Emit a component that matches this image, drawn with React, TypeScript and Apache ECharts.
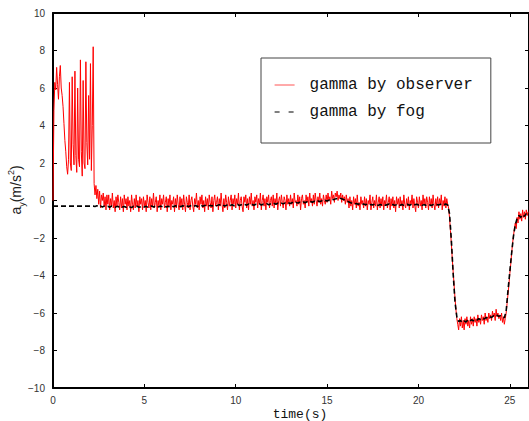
import React, { useEffect, useRef } from "react";
import * as echarts from "echarts";

// sample steps of the recorded signals (seconds)
const OBSERVER_STEP = 0.05;
const FOG_STEP = 0.1;

const seriesNames = ["gamma by observer", "gamma by fog"];
const xTickInterval = 5;
const yTicks = [-10, 10, 2]; // min, max, interval

// gamma by observer, t = 0.00 .. 26.00 s (one row per second)
const observerGamma = [
  0.0, 4.8, 6.3, 5.9, 7.1, 6.2, 5.4, 6.6, 7.2, 6.0, 5.6, 5.0, 4.1, 3.2, 2.6, 1.8, 1.4, 2.2, 6.3, 2.0,
  1.6, 6.6, 3.0, 1.9, 6.9, 2.4, 1.5, 6.0, 2.2, 1.8, 7.5, 2.6, 1.3, 6.4, 2.0, 1.7, 7.4, 3.1, 1.9, 5.6,
  2.2, 7.3, 1.6, 4.0, 8.2, 0.9, 0.3, 0.8, 0.1, 0.6, -0.2, 0.5, -0.4, 0.3, 0.0, 0.4, -0.3, 0.2, -0.5, 0.3,
  -0.2, 0.3, -0.5, 0.1, -0.3, 0.4, -0.4, 0.0, -0.6, 0.2, -0.3, 0.3, -0.1, -0.5, 0.2, -0.4, 0.1, -0.6, 0.3, -0.2,
  0.1, -0.5, 0.2, -0.3, 0.0, -0.6, 0.3, -0.2, -0.5, 0.1, -0.4, 0.3, -0.3, 0.0, -0.6, 0.2, -0.2, 0.1, -0.5, 0.2,
  -0.3, 0.0, -0.6, 0.3, -0.1, -0.4, 0.2, -0.5, 0.1, -0.3, 0.4, -0.4, -0.1, 0.2, -0.6, 0.0, -0.3, 0.3, -0.5, 0.1,
  -0.2, 0.3, -0.4, -0.1, 0.2, -0.6, 0.1, -0.3, 0.3, -0.5, 0.0, -0.2, 0.2, -0.6, 0.1, -0.4, 0.3, -0.2, -0.5, 0.2,
  -0.3, 0.1, -0.5, 0.3, -0.2, -0.6, 0.2, -0.1, -0.4, 0.3, -0.5, 0.0, 0.2, -0.3, -0.6, 0.1, -0.2, 0.4, -0.4, 0.0,
  -0.5, 0.2, -0.2, 0.3, -0.4, 0.0, -0.6, 0.2, -0.3, 0.1, -0.5, 0.3, -0.1, -0.4, 0.2, -0.6, 0.0, 0.3, -0.3, -0.1,
  0.2, -0.5, 0.1, -0.3, 0.4, -0.2, -0.6, 0.1, -0.4, 0.3, -0.1, -0.5, 0.2, -0.3, 0.0, 0.3, -0.5, 0.1, -0.2, 0.3,
  -0.4, 0.1, -0.2, 0.4, -0.5, 0.0, 0.2, -0.3, -0.6, 0.2, -0.1, 0.3, -0.4, 0.1, -0.5, 0.2, -0.2, 0.4, -0.3, 0.0,
  -0.5, 0.2, -0.1, 0.3, -0.4, 0.1, -0.2, 0.4, -0.5, 0.0, 0.3, -0.3, 0.1, -0.5, 0.2, -0.1, 0.3, -0.4, 0.0, 0.2,
  -0.3, 0.3, -0.4, 0.1, -0.2, 0.4, -0.5, 0.0, 0.2, -0.3, 0.3, -0.1, -0.4, 0.2, 0.0, -0.5, 0.3, -0.2, 0.1, -0.3,
  0.3, -0.2, 0.1, -0.4, 0.4, -0.1, 0.0, -0.3, 0.3, -0.2, 0.2, -0.5, 0.1, 0.3, -0.2, 0.0, -0.4, 0.3, -0.1, 0.2,
  -0.3, 0.4, -0.1, 0.1, -0.3, 0.3, -0.2, 0.4, 0.0, -0.3, 0.2, -0.1, 0.4, -0.2, 0.1, -0.3, 0.3, 0.0, -0.2, 0.3,
  -0.1, 0.4, 0.0, 0.2, -0.2, 0.5, 0.1, 0.3, -0.1, 0.4, 0.2, 0.5, 0.0, 0.3, 0.1, 0.4, -0.1, 0.3, 0.0, 0.2,
  -0.2, 0.3, -0.1, 0.1, -0.4, 0.2, -0.3, 0.0, -0.5, 0.2, -0.2, 0.1, -0.4, 0.3, -0.3, -0.1, -0.5, 0.2, -0.2, 0.0,
  -0.4, 0.2, -0.3, 0.1, -0.5, 0.0, -0.2, 0.3, -0.5, -0.1, 0.2, -0.4, 0.0, -0.3, 0.3, -0.5, -0.1, 0.2, -0.4, 0.1,
  -0.3, 0.2, -0.5, 0.0, -0.2, 0.3, -0.4, -0.1, 0.2, -0.5, 0.1, -0.3, 0.2, -0.4, 0.0, -0.6, 0.2, -0.2, 0.1, -0.4,
  0.2, -0.3, 0.0, -0.5, 0.3, -0.2, -0.4, 0.1, -0.3, 0.2, -0.5, 0.0, -0.2, 0.3, -0.4, 0.1, -0.3, -0.6, 0.2, -0.1,
  -0.4, 0.2, -0.3, 0.0, -0.5, 0.3, -0.2, 0.1, -0.4, 0.2, -0.1, -0.5, 0.2, -0.3, 0.1, -0.4, 0.3, -0.2, -0.5, 0.1,
  -0.3, 0.2, -0.4, 0.1, -0.2, 0.3, -0.5, 0.0, -0.3, 0.2, -0.4, 0.1, -0.2, -0.4, -0.9, -1.6, -2.3, -3.1, -3.8, -4.5,
  -5.2, -5.8, -6.3, -6.6, -6.9, -6.3, -6.7, -6.2, -6.8, -6.4, -6.9, -6.3, -6.6, -6.2, -6.7, -6.4, -6.8, -6.2, -6.6, -6.3,
  -6.7, -6.2, -6.5, -6.3, -6.7, -6.1, -6.5, -6.3, -6.6, -6.1, -6.4, -6.2, -6.6, -6.0, -6.4, -6.2, -6.5, -6.0, -6.3, -6.1,
  -6.4, -5.9, -6.2, -6.0, -6.4, -5.8, -6.2, -6.0, -6.3, -6.1, -6.4, -6.0, -6.5, -6.2, -6.6, -6.3, -6.0, -5.5, -5.0, -4.5,
  -3.9, -3.4, -2.8, -2.3, -1.9, -1.5, -1.2, -1.5, -0.9, -1.2, -0.6, -1.0, -0.7, -1.1, -0.5, -0.9, -0.6, -1.0, -0.5, -0.8,
  -0.6,
];

// gamma by fog, t = 0.0 .. 26.0 s
const fogGamma = [
  -0.3, -0.3, -0.3, -0.3, -0.3, -0.3, -0.3, -0.3, -0.3, -0.3,
  -0.3, -0.3, -0.3, -0.3, -0.3, -0.3, -0.3, -0.3, -0.3, -0.3,
  -0.3, -0.3, -0.3, -0.32, -0.28, -0.33, -0.29, -0.35, -0.3, -0.34,
  -0.31, -0.36, -0.3, -0.33, -0.37, -0.31, -0.34, -0.29, -0.35, -0.32,
  -0.36, -0.3, -0.34, -0.38, -0.31, -0.35, -0.3, -0.36, -0.33, -0.29,
  -0.35, -0.31, -0.37, -0.32, -0.29, -0.35, -0.3, -0.36, -0.33, -0.3,
  -0.34, -0.29, -0.35, -0.31, -0.36, -0.3, -0.33, -0.28, -0.34, -0.3,
  -0.33, -0.28, -0.32, -0.27, -0.33, -0.29, -0.26, -0.31, -0.27, -0.32,
  -0.28, -0.25, -0.31, -0.27, -0.24, -0.3, -0.26, -0.29, -0.25, -0.3,
  -0.26, -0.22, -0.28, -0.24, -0.3, -0.25, -0.21, -0.27, -0.23, -0.28,
  -0.24, -0.2, -0.27, -0.23, -0.26, -0.21, -0.25, -0.19, -0.24, -0.21,
  -0.25, -0.2, -0.23, -0.18, -0.24, -0.2, -0.22, -0.17, -0.23, -0.19,
  -0.21, -0.16, -0.2, -0.15, -0.19, -0.14, -0.18, -0.13, -0.17, -0.14,
  -0.16, -0.11, -0.15, -0.1, -0.14, -0.09, -0.13, -0.08, -0.12, -0.07,
  -0.1, -0.06, -0.09, -0.04, -0.08, -0.03, -0.06, -0.02, -0.05, 0.0,
  -0.03, 0.02, -0.01, 0.04, 0.06, 0.1, 0.08, 0.12, 0.09, 0.05,
  0.02, -0.04, -0.08, -0.12, -0.15, -0.18, -0.16, -0.2, -0.17, -0.22,
  -0.19, -0.23, -0.2, -0.25, -0.21, -0.24, -0.19, -0.23, -0.26, -0.21,
  -0.24, -0.2, -0.25, -0.22, -0.19, -0.24, -0.21, -0.26, -0.22, -0.2,
  -0.25, -0.21, -0.26, -0.23, -0.2, -0.25, -0.22, -0.27, -0.23, -0.2,
  -0.24, -0.21, -0.26, -0.22, -0.25, -0.2, -0.23, -0.27, -0.22, -0.25,
  -0.21, -0.24, -0.2, -0.25, -0.22, -0.19, -0.24, -0.7, -2.1, -3.9,
  -5.4, -6.2, -6.45, -6.4, -6.5, -6.42, -6.48, -6.38, -6.45, -6.36,
  -6.42, -6.34, -6.38, -6.3, -6.35, -6.27, -6.32, -6.24, -6.28, -6.2,
  -6.24, -6.15, -6.2, -6.12, -6.18, -6.14, -6.2, -6.25, -5.9, -4.8,
  -3.8, -2.8, -1.9, -1.3, -0.95, -0.8, -0.9, -0.75, -0.85, -0.7,
  -0.75,
];

const toPairs = (vals: number[], step: number) =>
  vals.map((v, i) => [Math.round(i * step * 1000) / 1000, v]);

export default function App() {
  const ref = useRef<HTMLDivElement>(null);

  useEffect(() => {
    if (!ref.current) return;
    const chart = echarts.init(ref.current, null, { renderer: "svg" });

    const axisLine = { show: true, onZero: false, lineStyle: { color: "#000", width: 2 } };
    const axisTick = { show: true, inside: true, length: 4, lineStyle: { color: "#000", width: 1 } };
    const minusFmt = (v: number) => String(v).replace("-", "\u2212");

    chart.setOption({
      animation: false,
      backgroundColor: "#fff",
      grid: { left: 53, top: 13, right: -1, bottom: 33, containLabel: false },
      legend: {
        show: true,
        orient: "vertical",
        left: 261,
        top: 58,
        padding: [19, 18, 23, 13],
        itemGap: 11,
        itemWidth: 20,
        itemHeight: 14,
        borderColor: "#444",
        borderWidth: 1,
        backgroundColor: "#fff",
        itemStyle: { opacity: 0 },
        textStyle: {
          fontFamily: "Liberation Mono",
          fontSize: 16,
          lineHeight: 16,
          color: "#111",
          padding: [0, 0, 0, 10],
        },
        data: [
          { name: seriesNames[0], itemStyle: { opacity: 0 }, lineStyle: { width: 1, color: "#ff5555" } },
          { name: seriesNames[1], itemStyle: { opacity: 0 }, lineStyle: { type: [5, 9], width: 1.2 } },
        ],
      },
      xAxis: [
        {
          type: "value",
          position: "bottom",
          min: 0,
          max: 26.05,
          interval: xTickInterval,
          axisLine,
          axisTick,
          splitLine: { show: false },
          axisLabel: {
            fontFamily: "Liberation Sans",
            fontSize: 10,
            color: "#333",
            margin: 7,
            showMaxLabel: false,
          },
        },
        {
          type: "value",
          position: "top",
          min: 0,
          max: 26.05,
          interval: xTickInterval,
          axisLine,
          axisTick,
          splitLine: { show: false },
          axisLabel: { show: false },
        },
      ],
      yAxis: [
        {
          type: "value",
          position: "left",
          min: yTicks[0],
          max: yTicks[1],
          interval: yTicks[2],
          axisLine,
          axisTick,
          splitLine: { show: false },
          axisLabel: {
            fontFamily: "Liberation Sans",
            fontSize: 10,
            color: "#333",
            margin: 8,
            formatter: minusFmt,
          },
        },
        {
          type: "value",
          position: "right",
          min: yTicks[0],
          max: yTicks[1],
          interval: yTicks[2],
          axisLine,
          axisTick,
          splitLine: { show: false },
          axisLabel: { show: false },
        },
      ],
      graphic: [
        {
          type: "text",
          x: 300,
          y: 414,
          style: {
            text: "time(s)",
            fontFamily: "Liberation Mono",
            fontSize: 13,
            fill: "#111",
            align: "center",
            verticalAlign: "middle",
          },
        },
        {
          type: "text",
          x: 16,
          y: 190,
          rotation: Math.PI / 2,
          style: {
            text: "{a|a}{sub|y}{a|(m/s}{sup|2}{a|)}",
            align: "center",
            verticalAlign: "middle",
            fill: "#222",
            rich: {
              a: { fontFamily: "Liberation Sans", fontSize: 14, fill: "#222", lineHeight: 20 },
              sub: { fontFamily: "Liberation Sans", fontSize: 9, fill: "#222", verticalAlign: "bottom", lineHeight: 20, padding: [7, 0, 0, 0] },
              sup: { fontFamily: "Liberation Sans", fontSize: 9, fill: "#222", verticalAlign: "top", lineHeight: 20, padding: [0, 0, 7, 0] },
            },
          },
        },
      ],
      series: [
        {
          name: seriesNames[0],
          type: "line",
          data: toPairs(observerGamma, OBSERVER_STEP),
          symbol: "none",
          lineStyle: { color: "#ff0000", width: 1 },
          itemStyle: { color: "#ff0000" },
          z: 2,
        },
        {
          name: seriesNames[1],
          type: "line",
          data: toPairs(fogGamma, FOG_STEP),
          symbol: "none",
          lineStyle: { color: "#000", width: 1.6, type: [5, 3] },
          itemStyle: { color: "#000" },
          z: 3,
        },
      ],
    });

    return () => chart.dispose();
  }, []);

  return (
    <div
      ref={ref}
      style={{ position: "fixed", left: 0, top: 0, width: 529, height: 421 }}
    />
  );
}
